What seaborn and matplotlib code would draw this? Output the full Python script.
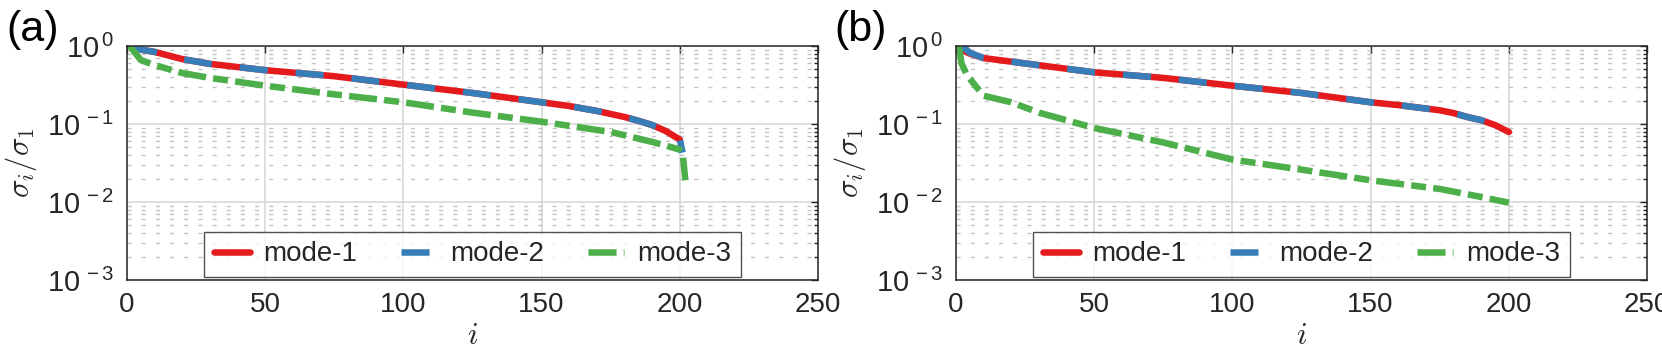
import numpy as np
import pandas as pd
import matplotlib
matplotlib.use('Agg')
import matplotlib.pyplot as plt
import seaborn as sns
from matplotlib.ticker import LogLocator, NullLocator, MultipleLocator, NullFormatter, FuncFormatter

# singular value decay
idx_a = [1, 5, 10, 20, 30, 50, 75, 100, 125, 150, 160, 170, 180, 185, 190, 195, 200]
mode1_a = [1.0, 0.90, 0.84, 0.68, 0.59, 0.49, 0.41, 0.32, 0.25, 0.19, 0.17, 0.147, 0.123, 0.110, 0.097, 0.081, 0.063]
idx2_a = [1, 5, 10, 20, 30, 50, 75, 100, 125, 150, 160, 170, 180, 185, 190, 195, 200, 201]
mode2_a = [1.0, 0.90, 0.84, 0.68, 0.59, 0.49, 0.41, 0.32, 0.25, 0.19, 0.17, 0.147, 0.123, 0.110, 0.097, 0.081, 0.063, 0.043]
idx3_a = [1, 5, 10, 20, 30, 50, 75, 100, 125, 150, 175, 190, 200, 201, 202]
mode3_a = [1.0, 0.66, 0.57, 0.45, 0.39, 0.31, 0.24, 0.19, 0.14, 0.107, 0.079, 0.059, 0.047, 0.043, 0.019]

idx_b = [1, 3, 5, 10, 20, 50, 75, 100, 125, 150, 160, 175, 180, 185, 190, 195, 200]
mode1_b = [1.0, 0.86, 0.80, 0.70, 0.63, 0.46, 0.39, 0.31, 0.25, 0.19, 0.175, 0.15, 0.138, 0.123, 0.112, 0.097, 0.079]
mode2_b = [1.0, 0.95, 0.82, 0.70, 0.63, 0.46, 0.39, 0.31, 0.25, 0.19, 0.175, 0.15, 0.138, 0.123, 0.112, 0.097, 0.079]
idx3_b = [1, 2, 4, 10, 20, 30, 50, 75, 100, 125, 150, 175, 190, 200]
mode3_b = [1.0, 0.6, 0.42, 0.23, 0.19, 0.14, 0.089, 0.058, 0.035, 0.026, 0.019, 0.0147, 0.0116, 0.0098]

modes = ['mode-1', 'mode-2', 'mode-3']
colors = {'mode-1': '#e41a1c', 'mode-2': '#377eb8', 'mode-3': '#4daf4a'}
dashes = {'mode-1': '', 'mode-2': (4.3, 4.3), 'mode-3': (4.3, 1.1, 2.3, 1.1)}


def make_df(i1, v1, i2, v2, i3, v3):
    parts = []
    for name, i, v in zip(modes, [i1, i2, i3], [v1, v2, v3]):
        parts.append(pd.DataFrame({'i': i, 'ratio': v, 'mode': name}))
    return pd.concat(parts, ignore_index=True)


def pow_label(val, pos):
    e = int(round(np.log10(val)))
    return r'$\mathdefault{10^{\,%s}}$' % ('-%d' % -e if e < 0 else '%d' % e)


sns.set_theme(style='white')
plt.rcParams['font.family'] = ['Liberation Sans', 'DejaVu Sans']
plt.rcParams['mathtext.fontset'] = 'cm'
plt.rcParams['axes.unicode_minus'] = False

fig = plt.figure(figsize=(16.62, 3.57), dpi=100)
ax_a = fig.add_axes([0.0764, 0.2157, 0.4158, 0.6554])
ax_b = fig.add_axes([0.5752, 0.2157, 0.4158, 0.6554])

panels = [
    (ax_a, make_df(idx_a, mode1_a, idx2_a, mode2_a, idx3_a, mode3_a), '(a)', 0.004),
    (ax_b, make_df(idx_b, mode1_b, idx_b, mode2_b, idx3_b, mode3_b), '(b)', 0.502),
]

for ax, df, tag, tx in panels:
    sns.lineplot(data=df, x='i', y='ratio', hue='mode', style='mode',
                 hue_order=modes, style_order=modes, palette=colors,
                 dashes=dashes, lw=4.7, sort=False, estimator=None, ax=ax)
    ax.set_yscale('log')
    ax.set_xlim(0, 250)
    ax.set_ylim(1e-3, 1)
    ax.xaxis.set_major_locator(MultipleLocator(50))
    ax.xaxis.set_minor_locator(NullLocator())
    ax.yaxis.set_major_locator(LogLocator(base=10))
    ax.yaxis.set_major_formatter(FuncFormatter(pow_label))
    ax.yaxis.set_minor_locator(LogLocator(base=10, subs=np.arange(2, 10)))
    ax.yaxis.set_minor_formatter(NullFormatter())

    ax.grid(True, which='major', color='#d5d5d5', lw=1.1, ls='-')
    ax.grid(True, which='minor', axis='y', color='#c4c4c4', lw=1.0, ls=(0, (3, 7.2)))
    ax.set_axisbelow(True)

    ax.tick_params(which='both', direction='in', top=True, right=True,
                   colors='#262626', labelsize=20, width=1.0)
    ax.tick_params(axis='y', which='major', labelsize=21)
    ax.tick_params(which='major', length=5, pad=9)
    ax.tick_params(which='minor', length=3)
    for sp in ax.spines.values():
        sp.set_color('#262626')
        sp.set_linewidth(1.1)

    ax.set_xlabel('$i$', fontsize=22, color='#262626', labelpad=2)
    ax.set_ylabel(r'$\sigma_i/\sigma_1$', fontsize=22, color='#262626', labelpad=6)

    handles, labels = ax.get_legend_handles_labels()
    leg = ax.legend(handles, labels, loc='lower center', bbox_to_anchor=(0.5, 0.012),
                    ncol=3, fontsize=20, frameon=True, fancybox=False,
                    handlelength=1.3, handletextpad=0.45, columnspacing=1.6,
                    borderpad=0.35, borderaxespad=0)
    leg.get_frame().set_edgecolor('#262626')
    leg.get_frame().set_linewidth(1.0)
    for line in leg.get_lines():
        line.set_linewidth(4.7)

    fig.text(tx, 0.915, tag, fontsize=31, va='center', ha='left', color='black')

plt.savefig('out.png', dpi=100)
plt.close()
